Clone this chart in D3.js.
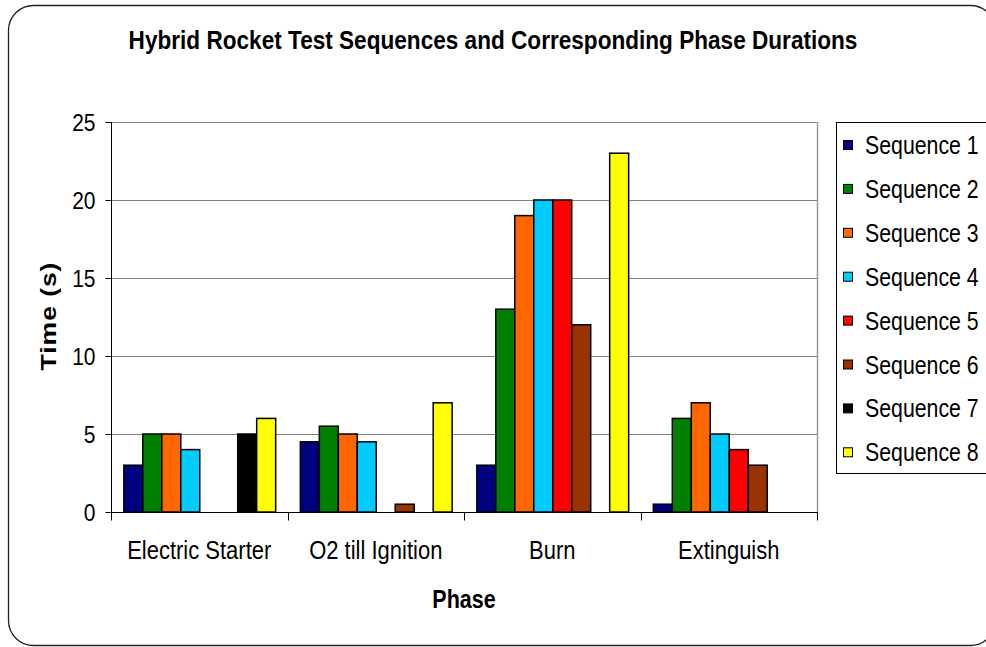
<!DOCTYPE html>
<html>
<head>
<meta charset="utf-8">
<script src="https://cdn.jsdelivr.net/npm/d3@7"></script>
<style>
  html, body { margin: 0; padding: 0; background: #fff; }
  svg { display: block; }
  text { font-family: "Liberation Sans", Arial, sans-serif; fill: #000; }
</style>
</head>
<body>
<svg id="chart" width="986" height="647"></svg>
<script>
const phases = ["Electric Starter", "O2 till Ignition", "Burn", "Extinguish"];
const seriesNames = ["Sequence 1", "Sequence 2", "Sequence 3", "Sequence 4",
                     "Sequence 5", "Sequence 6", "Sequence 7", "Sequence 8"];
const seq1 = [3, 4.5, 3, 0.5];
const seq2 = [5, 5.5, 13, 6];
const seq3 = [5, 5, 19, 7];
const seq4 = [4, 4.5, 20, 5];
const seq5 = [0, 0, 20, 4];
const seq6 = [0, 0.5, 12, 3];
const seq7 = [5, 0, 0, 0];
const seq8 = [6, 7, 23, 0];
const seriesColors = ["#000080", "#008000", "#FF6600", "#00CCFF",
                      "#FF0000", "#993300", "#000000", "#FFFF00"];
const yTicks = [0, 5, 10, 15, 20, 25];
const titleText = "Hybrid Rocket Test Sequences and Corresponding Phase Durations";
const xTitle = "Phase";
const yTitle = "Time (s)";

const seriesValues = [seq1, seq2, seq3, seq4, seq5, seq6, seq7, seq8];

const svg = d3.select("#chart");
const SY = 1.18; // vertical stretch of the text in the reference

// outer rounded frame
svg.append("rect")
  .attr("x", 8.5).attr("y", 5.5)
  .attr("width", 987).attr("height", 640)
  .attr("rx", 25).attr("ry", 25)
  .attr("fill", "#fff")
  .attr("stroke", "#222").attr("stroke-width", 1.3);

const plot = { left: 111, right: 817, top: 122, bottom: 512 };

const x0 = d3.scaleBand().domain(phases).range([plot.left, plot.right]).padding(0);
const x1 = d3.scaleBand().domain(seriesNames).range([0, x0.bandwidth()])
  .paddingInner(0).paddingOuter(0.65);
const y = d3.scaleLinear().domain([0, 25]).range([plot.bottom, plot.top]);

// gridlines
svg.append("g").selectAll("line").data(yTicks.filter(d => d > 0)).join("line")
  .attr("x1", plot.left).attr("x2", plot.right)
  .attr("y1", d => Math.round(y(d)) + 0.5).attr("y2", d => Math.round(y(d)) + 0.5)
  .attr("stroke", "#808080").attr("stroke-width", 1);

// plot area right border
svg.append("line")
  .attr("x1", plot.right + 0.5).attr("x2", plot.right + 0.5)
  .attr("y1", plot.top).attr("y2", plot.bottom)
  .attr("stroke", "#9a9a9a").attr("stroke-width", 1.5);

// bars
const barData = [];
seriesValues.forEach((vals, si) => {
  vals.forEach((v, pi) => {
    if (v > 0) barData.push({ phase: phases[pi], series: seriesNames[si], value: v, color: seriesColors[si] });
  });
});
svg.append("g").selectAll("rect").data(barData).join("rect")
  .attr("x", d => x0(d.phase) + x1(d.series) + 0.5)
  .attr("y", d => y(d.value))
  .attr("width", x1.bandwidth())
  .attr("height", d => y(0) - y(d.value))
  .attr("fill", d => d.color)
  .attr("stroke", "#000").attr("stroke-width", 1.5);

// y axis
const yAxis = d3.axisLeft(y).tickValues(yTicks).tickSize(6).tickPadding(0).tickFormat(d3.format("d"));
const gy = svg.append("g").attr("transform", `translate(${plot.left + 0.5},0)`).call(yAxis);
gy.select(".domain").attr("stroke", "#000").attr("d", `M0,${plot.top}V${plot.bottom + 7}`);
gy.selectAll(".tick line").attr("stroke", "#000");
gy.selectAll(".tick text").remove();
gy.selectAll(".tick").append("text")
  .attr("text-anchor", "end")
  .attr("transform", `translate(-16,0) scale(1,${SY})`)
  .attr("dy", "0.36em")
  .style("font-size", "21px")
  .attr("fill", "#000")
  .text(d => d);

// x axis
const xAxis = d3.axisBottom(x0).tickSize(0).tickFormat("");
const gx = svg.append("g").attr("transform", `translate(0,${plot.bottom + 0.5})`).call(xAxis);
gx.select(".domain").attr("stroke", "#000").attr("d", `M${plot.left},0H${plot.right + 1}`);
const boundaries = phases.map(p => x0(p)).concat([plot.right]);
gx.selectAll(".bound").data(boundaries).join("line").attr("class", "bound")
  .attr("x1", d => Math.round(d) + 0.5).attr("x2", d => Math.round(d) + 0.5)
  .attr("y1", 0).attr("y2", 8)
  .attr("stroke", "#000");
svg.append("g").selectAll("text").data(phases).join("text")
  .attr("text-anchor", "middle")
  .attr("transform", d => `translate(${x0(d) + x0.bandwidth() / 2},559) scale(1,${SY})`)
  .style("font-size", "22px")
  .text(d => d);

// axis titles
svg.append("text")
  .attr("text-anchor", "middle")
  .attr("transform", `translate(${(plot.left + plot.right) / 2},608) scale(1,${SY})`)
  .style("font-size", "21.5px").style("font-weight", "bold")
  .text(xTitle);
svg.append("text")
  .attr("text-anchor", "middle")
  .attr("transform", `translate(56,316) scale(1,${SY}) rotate(-90)`)
  .style("font-size", "22.5px").style("font-weight", "bold")
  .style("letter-spacing", "0.8px")
  .text(yTitle);

// title
svg.append("text")
  .attr("text-anchor", "middle")
  .attr("transform", `translate(493,49) scale(1,${SY})`)
  .style("font-size", "22.6px").style("font-weight", "bold")
  .text(titleText);

// legend
const lg = svg.append("g");
lg.append("rect")
  .attr("x", 836.5).attr("y", 122.5).attr("width", 170).attr("height", 351)
  .attr("fill", "#fff").attr("stroke", "#000").attr("stroke-width", 1);
const items = lg.selectAll("g.item").data(seriesNames).join("g").attr("class", "item")
  .attr("transform", (d, i) => `translate(0,${145 + i * 43.9})`);
items.append("rect")
  .attr("x", 843.5).attr("y", -4.5).attr("width", 9).attr("height", 9)
  .attr("fill", (d, i) => seriesColors[i])
  .attr("stroke", "#000").attr("stroke-width", 1);
items.append("text")
  .attr("transform", `translate(865,0) scale(1,${SY})`)
  .attr("dy", "0.36em")
  .style("font-size", "21.3px")
  .text(d => d);
</script>
</body>
</html>
